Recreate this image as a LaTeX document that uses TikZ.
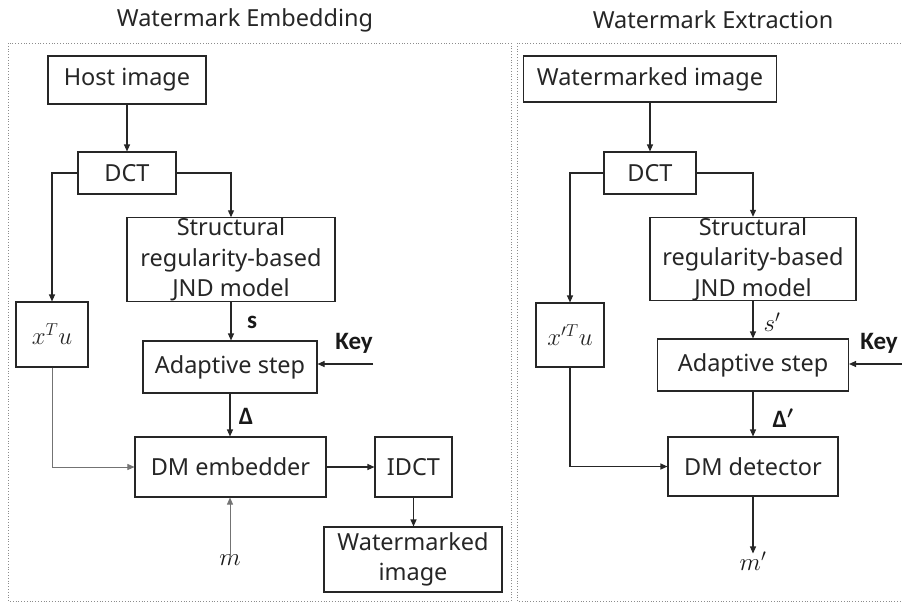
\documentclass[tikz,border=0pt]{standalone}
\usepackage{amsmath}
\usepackage{bm}
\usepackage{fontspec}
\setmainfont{Noto Sans}
\newfontfamily\lblfont{Carlito}
\usetikzlibrary{arrows.meta}
\begin{document}
\begin{tikzpicture}[x=1pt,y=-1pt,
  box/.style={draw=black!85,line width=1.1pt,align=center,inner sep=0pt,text=black!85,font=\fontsize{23.5}{30.5}\selectfont},
  arr/.style={-{Triangle[length=7pt,width=6pt]},line width=1.1pt,draw=black!85},
  garr/.style={-{Triangle[length=7pt,width=6pt]},line width=0.7pt,draw=black!55},
  lbl/.style={inner sep=0pt,text=black!90,font=\fontsize{25}{28}\selectfont\lblfont\bfseries},
  mlbl/.style={inner sep=0pt,text=black!90,font=\fontsize{27}{30}\selectfont},
  ttl/.style={inner sep=0pt,text=black!85,font=\fontsize{23.5}{26}\selectfont},
  frame/.style={draw=black!45,dotted,line width=0.8pt}]
\useasboundingbox (0,0) rectangle (902,603);
\fill[white] (0,0) rectangle (902,603);

% frames and titles
\draw[frame] (8,43) rectangle (511,601);
\draw[frame] (517,43) rectangle (904,601);
\node[ttl] (t1) at (245,20) {Watermark Embedding};
\node[ttl] (t2) at (713,20) {Watermark Extraction};

% ---------- left panel ----------
\node[box,minimum width=158,minimum height=48] (hostL) at (127,80) {Host image};
\node[box,minimum width=98,minimum height=42] (dctL) at (127,173) {DCT};
\node[box,minimum width=208,minimum height=83] (jndL) at (231,259.5) {Structural\\regularity-based\\JND model};
\node[box,minimum width=72,minimum height=65,font=\fontsize{27}{30}\selectfont] (xuL) at (52,334.5) {$x^{T}u$};
\node[box,minimum width=174,minimum height=52] (adaL) at (230,367) {Adaptive step};
\node[box,minimum width=191,minimum height=60] (dmL) at (230.5,467) {DM embedder};
\node[box,minimum width=77,minimum height=60] (idct) at (413.5,467) {IDCT};
\node[box,minimum width=178,minimum height=65] (wmL) at (413,559.5) {Watermarked\\image};

\node[lbl] (sL) at (252,322) {s};
\node[lbl] (keyLt) at (354,343) {Key};
\node[lbl] (dL) at (246,416) {Δ};
\node[mlbl] (mL) at (230,560) {$m$};
\coordinate (keyL) at (373,364);

\draw[arr] (hostL.south) -- (dctL.north);
\draw[arr] (dctL.west) -| (xuL.north);
\draw[arr] (dctL.east) -| (jndL.north);
\draw[arr] (jndL.south) -- (jndL.south |- adaL.north);
\draw[arr] (keyL) -- (keyL -| adaL.east);
\draw[arr] (adaL.south) -- (adaL.south |- dmL.north);
\draw[garr] (xuL.south) |- (dmL.west);
\draw[garr] ([yshift=-4]mL.north) -- (mL.north |- dmL.south);
\draw[arr] (dmL.east) -- (idct.west);
\draw[arr] (idct.south) -- (idct.south |- wmL.north);

% ---------- right panel ----------
\node[box,minimum width=253,minimum height=46] (wmR) at (650,79) {Watermarked image};
\node[box,minimum width=92,minimum height=42] (dctR) at (650,173) {DCT};
\node[box,minimum width=206,minimum height=82] (jndR) at (753,259) {Structural\\regularity-based\\JND model};
\node[box,minimum width=68,minimum height=64,font=\fontsize{27}{30}\selectfont] (xuR) at (570,335) {$x'^{T}u$};
\node[box,minimum width=191,minimum height=52] (adaR) at (753,365) {Adaptive step};
\node[box,minimum width=170,minimum height=59] (dmR) at (753,466.5) {DM detector};

\node[mlbl] (sR) at (772,322) {$s'$};
\node[lbl] (keyRt) at (879,343) {Key};
\node[lbl] (dR) at (783,418) {Δ$\bm{'}$};
\node[mlbl] (mR) at (753,561) {$m'$};
\coordinate (keyR) at (902,364);

\draw[arr] (wmR.south) -- (dctR.north);
\draw[arr] (dctR.west) -| (xuR.north);
\draw[arr] (dctR.east) -| (jndR.north);
\draw[arr] (jndR.south) -- (adaR.north);
\draw[arr] (keyR) -- (keyR -| adaR.east);
\draw[arr] (adaR.south) -- (dmR.north);
\draw[arr] (xuR.south) |- (dmR.west);
\draw[arr] (dmR.south) -- ([yshift=-2]mR.north);
\end{tikzpicture}
\end{document}
